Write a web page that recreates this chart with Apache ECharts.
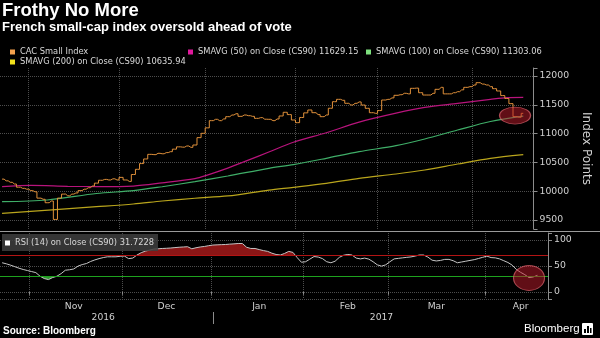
<!DOCTYPE html>
<html>
<head>
<meta charset="utf-8">
<title>Frothy No More</title>
<script src="https://cdn.jsdelivr.net/npm/echarts@6/dist/echarts.min.js"></script>
<style>
  html, body { margin: 0; padding: 0; background: #000; }
  #main { width: 600px; height: 338px; }
</style>
</head>
<body>
<div id="main"></div>
<script>
// trading days on the axis (Paris), the last two April days are empty slots
const tradingDays = {
  '2016-10': [21, 24, 25, 26, 27, 28, 31],
  '2016-11': [1, 2, 3, 4, 7, 8, 9, 10, 11, 14, 15, 16, 17, 18, 21, 22, 23, 24, 25, 28, 29, 30],
  '2016-12': [1, 2, 5, 6, 7, 8, 9, 12, 13, 14, 15, 16, 19, 20, 21, 22, 23, 27, 28, 29, 30],
  '2017-01': [2, 3, 4, 5, 6, 9, 10, 11, 12, 13, 16, 17, 18, 19, 20, 23, 24, 25, 26, 27, 30, 31],
  '2017-02': [1, 2, 3, 6, 7, 8, 9, 10, 13, 14, 15, 16, 17, 20, 21, 22, 23, 24, 27, 28],
  '2017-03': [1, 2, 3, 6, 7, 8, 9, 10, 13, 14, 15, 16, 17, 20, 21, 22, 23, 24, 27, 28, 29, 30, 31],
  '2017-04': [3, 4, 5, 6, 7, 10, 11, 12, 13, 18, 19, 20, 21, 24, 25]
};

// where the month / year names sit under the axis
const monthLabelDates = ['2016-11-15', '2016-12-15', '2017-01-17', '2017-02-15', '2017-03-16', '2017-04-13'];
const yearLabelDates = ['2016-11-24', '2017-02-27'];
const yearStartDate = '2017-01-02';
const monthNames = ['Jan', 'Feb', 'Mar', 'Apr', 'May', 'Jun', 'Jul', 'Aug', 'Sep', 'Oct', 'Nov', 'Dec'];

// CAC Small index close, one value per trading day from 2016-10-21
const cacSmall = [
  10210, 10180, 10155, 10125, 10070, 10050, 10035, 10010, 9990, 9880,
  9860, 9800, 9830, 9510, 9880, 9950, 9920, 9950, 9970, 10010,
  10035, 10060, 10090, 10140, 10190, 10205, 10195, 10215, 10195, 10240,
  10195, 10170, 10290, 10380, 10480, 10560, 10640, 10635, 10658, 10650,
  10670, 10686, 10730, 10770, 10765, 10785, 10762, 10802, 10930, 11005,
  11100, 11225, 11248, 11225, 11255, 11294, 11323, 11345, 11300, 11323,
  11311, 11300, 11265, 11277, 11250, 11248, 11225, 11254, 11306, 11370,
  11330, 11236, 11190, 11280, 11360, 11410, 11363, 11330, 11294, 11323,
  11440, 11554, 11595, 11578, 11526, 11496, 11526, 11550, 11496, 11439,
  11363, 11352, 11400, 11583, 11595, 11620, 11665, 11675, 11700, 11690,
  11786, 11790, 11710, 11670, 11670, 11700, 11769, 11803, 11690, 11690,
  11710, 11728, 11760, 11803, 11815, 11844, 11884, 11860, 11844, 11815,
  11780, 11740, 11660, 11610, 11520, 11294, 11285, 11352
];

// moving averages at a handful of dates
const sma50 = [
  ['2016-10-21', 10080], ['2016-11-01', 10100], ['2016-11-14', 10085], ['2016-11-23', 10080],
  ['2016-12-06', 10090], ['2016-12-15', 10145], ['2016-12-28', 10220], ['2017-01-02', 10280],
  ['2017-01-09', 10400], ['2017-01-16', 10540], ['2017-01-23', 10680], ['2017-01-31', 10850],
  ['2017-02-10', 11015], ['2017-02-22', 11200], ['2017-03-07', 11355], ['2017-03-16', 11455],
  ['2017-03-28', 11525], ['2017-04-07', 11595], ['2017-04-13', 11625], ['2017-04-21', 11629]
];
const sma100 = [
  ['2016-10-21', 9818], ['2016-11-07', 9847], ['2016-11-23', 9960], ['2016-12-06', 10010],
  ['2016-12-15', 10078], ['2016-12-28', 10165], ['2017-01-09', 10264], ['2017-01-23', 10398],
  ['2017-01-31', 10462], ['2017-02-10', 10571], ['2017-02-22', 10686], ['2017-03-07', 10790],
  ['2017-03-16', 10906], ['2017-03-28', 11062], ['2017-04-07', 11210], ['2017-04-21', 11303]
];
const sma200 = [
  ['2016-10-21', 9616], ['2016-11-23', 9731], ['2016-12-06', 9778], ['2016-12-15', 9830],
  ['2016-12-28', 9878], ['2017-01-09', 9918], ['2017-01-23', 10020], ['2017-01-31', 10068],
  ['2017-02-10', 10137], ['2017-02-22', 10224], ['2017-03-07', 10299], ['2017-03-16', 10368],
  ['2017-03-28', 10472], ['2017-04-07', 10571], ['2017-04-21', 10636]
];

// RSI (14), one value per trading day
const rsi14 = [
  56, 54, 51.4, 48.5, 45.5, 43, 41, 39, 37, 30,
  25.5, 23.5, 27.5, 30, 35, 41.6, 42.5, 44, 49.5, 52.5,
  54.5, 58.5, 61.5, 64, 66, 67.5, 67.5, 67.5, 68.5, 69,
  64, 65, 71, 75.5, 78.5, 80.5, 82.5, 83, 83.6, 84,
  84.5, 85.3, 86, 86.5, 87, 83, 85, 86.5, 87.5, 89,
  90.2, 90.6, 91, 91.3, 92, 92.5, 93.2, 93.2, 86, 83.6,
  83.6, 81.5, 79.5, 78, 74.5, 72, 71, 74, 78, 76,
  66, 57, 58, 63, 68, 67, 64, 58, 56, 59,
  66.5, 70.5, 72, 71, 65, 63.5, 65, 63, 58, 52,
  49.5, 52, 58, 63.5, 64.5, 65.5, 66.5, 67.3, 69, 71,
  71, 67, 61, 59.5, 60.5, 62.5, 62.5, 60, 56, 57.5,
  59, 60.5, 62, 64.2, 66.5, 68.8, 66, 65.5, 63.5, 60,
  56.5, 51.4, 43, 37.5, 33, 27.3, 28.6, 31.7
];

// the two red call-outs
const calloutIndex = [['2017-04-19', 11314]];
const calloutRsi = [['2017-04-19', 26.7]];

const names = {
  cac: 'CAC Small Index',
  s50: 'SMAVG (50) on Close (CS90) 11629.15',
  s100: 'SMAVG (100) on Close (CS90) 11303.06',
  s200: 'SMAVG (200) on Close (CS90) 10635.94',
  rsi: 'RSI (14) on Close (CS90) 31.7228'
};

const pad = n => (n < 10 ? '0' : '') + n;
let categories = [];
Object.keys(tradingDays).forEach(m => {
  tradingDays[m].forEach(d => categories.push(m + '-' + pad(d)));
});
let monthStarts = [];
categories.forEach((c, i) => {
  if (i > 0 && c.slice(0, 7) !== categories[i - 1].slice(0, 7)) monthStarts.push(i);
});

const legendFont = { color: '#d8d8d8', fontFamily: 'DejaVu Sans', fontSize: 8.3 };
const dotted = '#4d4d4d';
const gridLine = { color: dotted, type: 'dotted', width: 1 };
const none = 'rgba(0,0,0,0)';
const axisGrey = '#8c8c8c';

let myChart = echarts.init(document.getElementById('main'));

function legendAt(name, color, left, top, extra) {
  return Object.assign({
    data: [{ name: name, itemStyle: { color: color } }],
    left: left, top: top, padding: 0,
    icon: 'rect', itemWidth: 5, itemHeight: 5,
    selectedMode: false,
    textStyle: legendFont
  }, extra || {});
}

let option = {
  backgroundColor: '#000',
  animation: false,
  title: [
    { text: 'Frothy No More', left: 2, top: 1, padding: 0,
      textStyle: { color: '#fff', fontFamily: 'Liberation Sans', fontWeight: 'bold', fontSize: 18.5 } },
    { text: 'French small-cap index oversold ahead of vote', left: 2, top: 21, padding: 0,
      textStyle: { color: '#fff', fontFamily: 'Liberation Sans', fontWeight: 'bold', fontSize: 13 } },
    { text: 'Source: Bloomberg', left: 3, top: 326, padding: 0,
      textStyle: { color: '#fff', fontFamily: 'Liberation Sans', fontWeight: 'bold', fontSize: 10 } },
    { text: 'Bloomberg', left: 524, top: 323, padding: 0,
      textStyle: { color: '#fff', fontFamily: 'Liberation Sans', fontWeight: 'normal', fontSize: 11.5 } }
  ],
  legend: [
    legendAt(names.cac, '#f4a14d', 10, 48),
    legendAt(names.s50, '#e0189c', 188, 48),
    legendAt(names.s100, '#7ee07e', 366, 48),
    legendAt(names.s200, '#f2e21c', 10, 58),
    legendAt(names.rsi, '#ffffff', 2, 234, {
      padding: [5, 4, 4, 3], backgroundColor: 'rgba(62,62,62,0.85)'
    })
  ],
  grid: [
    { left: 0, right: 52, top: 68, height: 161 },
    { left: 0, right: 52, top: 233, height: 66 }
  ],
  xAxis: [
    {
      gridIndex: 0, type: 'category', data: categories, boundaryGap: true,
      axisLine: { show: false }, axisTick: { show: false }, axisLabel: { show: false },
      splitLine: { show: true, interval: i => monthStarts.includes(i), lineStyle: gridLine }
    },
    {
      gridIndex: 1, type: 'category', position: 'bottom', data: categories, boundaryGap: true,
      axisLine: { show: false },
      axisTick: { show: true, interval: i => monthStarts.includes(i), length: 3, lineStyle: { color: axisGrey } },
      axisLabel: {
        interval: (i, v) => monthLabelDates.includes(v),
        formatter: v => monthNames[+v.slice(5, 7) - 1],
        color: '#d0d0d0', fontFamily: 'DejaVu Sans', fontSize: 9.2, margin: 3
      },
      splitLine: { show: true, interval: i => monthStarts.includes(i), lineStyle: gridLine }
    },
    {
      gridIndex: 1, type: 'category', position: 'bottom', data: categories, boundaryGap: true, offset: 13,
      axisLine: { show: false },
      axisTick: { show: true, alignWithLabel: true, interval: (i, v) => v === yearStartDate, length: 12,
        lineStyle: { color: axisGrey } },
      axisLabel: {
        interval: (i, v) => yearLabelDates.includes(v),
        formatter: v => v.slice(0, 4),
        color: '#d0d0d0', fontFamily: 'DejaVu Sans', fontSize: 9.2, margin: 1
      },
      splitLine: { show: false }
    }
  ],
  yAxis: [
    {
      gridIndex: 0, type: 'value', position: 'right', min: 9344, max: 12139, splitNumber: 5,
      axisLine: { show: true, lineStyle: { color: axisGrey } },
      axisTick: { show: true, length: 4, lineStyle: { color: axisGrey } },
      axisLabel: { color: '#d0d0d0', fontFamily: 'DejaVu Sans', fontSize: 9.3, margin: 6,
        formatter: v => (v % 500 === 0 ? v : '') },
      splitLine: { show: true, lineStyle: { type: 'dotted', width: 1,
        color: [none, dotted, dotted, dotted, dotted, dotted, dotted, none] } },
      name: 'Index Points', nameLocation: 'middle', nameGap: 43, nameRotate: -90,
      nameTextStyle: { color: '#d0d0d0', fontFamily: 'DejaVu Sans', fontSize: 12 }
    },
    {
      gridIndex: 1, type: 'value', position: 'right', min: -14, max: 113.5, splitNumber: 3,
      axisLine: { show: true, lineStyle: { color: axisGrey } },
      axisTick: { show: true, length: 4, lineStyle: { color: axisGrey } },
      axisLabel: { color: '#d0d0d0', fontFamily: 'DejaVu Sans', fontSize: 9.3, margin: 6,
        formatter: v => (v % 50 === 0 ? v : '') },
      splitLine: { show: true, lineStyle: { type: 'dotted', width: 1,
        color: [dotted, dotted, dotted, dotted, none] } }
    }
  ],
  visualMap: {
    show: false, type: 'piecewise', seriesIndex: 5, dimension: 1,
    pieces: [
      { gt: 70, color: '#8a1616' },
      { gte: 30, lte: 70, color: 'rgba(0,0,0,0)' },
      { lt: 30, color: '#2f9a2f' }
    ]
  },
  series: [
    { name: names.s200, type: 'line', data: sma200, smooth: 0.3, showSymbol: false,
      lineStyle: { color: '#b9a51c', width: 1.2 }, itemStyle: { color: '#b9a51c' } },
    { name: names.s100, type: 'line', data: sma100, smooth: 0.3, showSymbol: false,
      lineStyle: { color: '#3fae68', width: 1.2 }, itemStyle: { color: '#3fae68' } },
    { name: names.s50, type: 'line', data: sma50, smooth: 0.3, showSymbol: false,
      lineStyle: { color: '#b8147c', width: 1.2 }, itemStyle: { color: '#b8147c' } },
    { name: names.cac, type: 'line', data: cacSmall, step: 'middle', showSymbol: false,
      lineStyle: { color: '#e0903a', width: 1 }, itemStyle: { color: '#e0903a' } },
    { type: 'scatter', data: calloutIndex, symbolSize: [31, 17], z: 10, silent: true,
      itemStyle: { color: 'rgba(196,28,44,0.62)', borderColor: 'rgba(240,110,120,0.8)', borderWidth: 1 } },
    { type: 'line', xAxisIndex: 1, yAxisIndex: 1, data: rsi14, showSymbol: false, silent: true,
      lineStyle: { width: 0 }, areaStyle: { origin: 50, opacity: 1 } },
    { name: names.rsi, type: 'line', xAxisIndex: 1, yAxisIndex: 1, data: rsi14, showSymbol: false,
      lineStyle: { color: '#c4c4c4', width: 1 }, itemStyle: { color: '#ffffff' },
      markLine: {
        silent: true, symbol: 'none', label: { show: false },
        data: [
          { yAxis: 70, lineStyle: { color: '#b31414', width: 1, type: 'solid' } },
          { yAxis: 30, lineStyle: { color: '#1ea21e', width: 1, type: 'solid' } }
        ]
      } },
    { type: 'scatter', xAxisIndex: 1, yAxisIndex: 1, data: calloutRsi, symbolSize: [31, 25], z: 10, silent: true,
      itemStyle: { color: 'rgba(196,28,44,0.62)', borderColor: 'rgba(240,110,120,0.8)', borderWidth: 1 } }
  ],
  graphic: [
    { type: 'line', silent: true, shape: { x1: 0, y1: 231.5, x2: 600, y2: 231.5 },
      style: { stroke: '#9a9a9a', lineWidth: 1 } },
    { type: 'group', left: 582, top: 323, silent: true, children: [
      { type: 'rect', shape: { x: 0, y: 0, width: 11, height: 12, r: 1 }, style: { fill: '#fff' } },
      { type: 'rect', shape: { x: 2, y: 6, width: 2, height: 4 }, style: { fill: '#000' } },
      { type: 'rect', shape: { x: 5, y: 3, width: 2, height: 7 }, style: { fill: '#000' } },
      { type: 'rect', shape: { x: 8, y: 5, width: 1.5, height: 5 }, style: { fill: '#000' } }
    ] }
  ]
};

myChart.setOption(option);
</script>
</body>
</html>
